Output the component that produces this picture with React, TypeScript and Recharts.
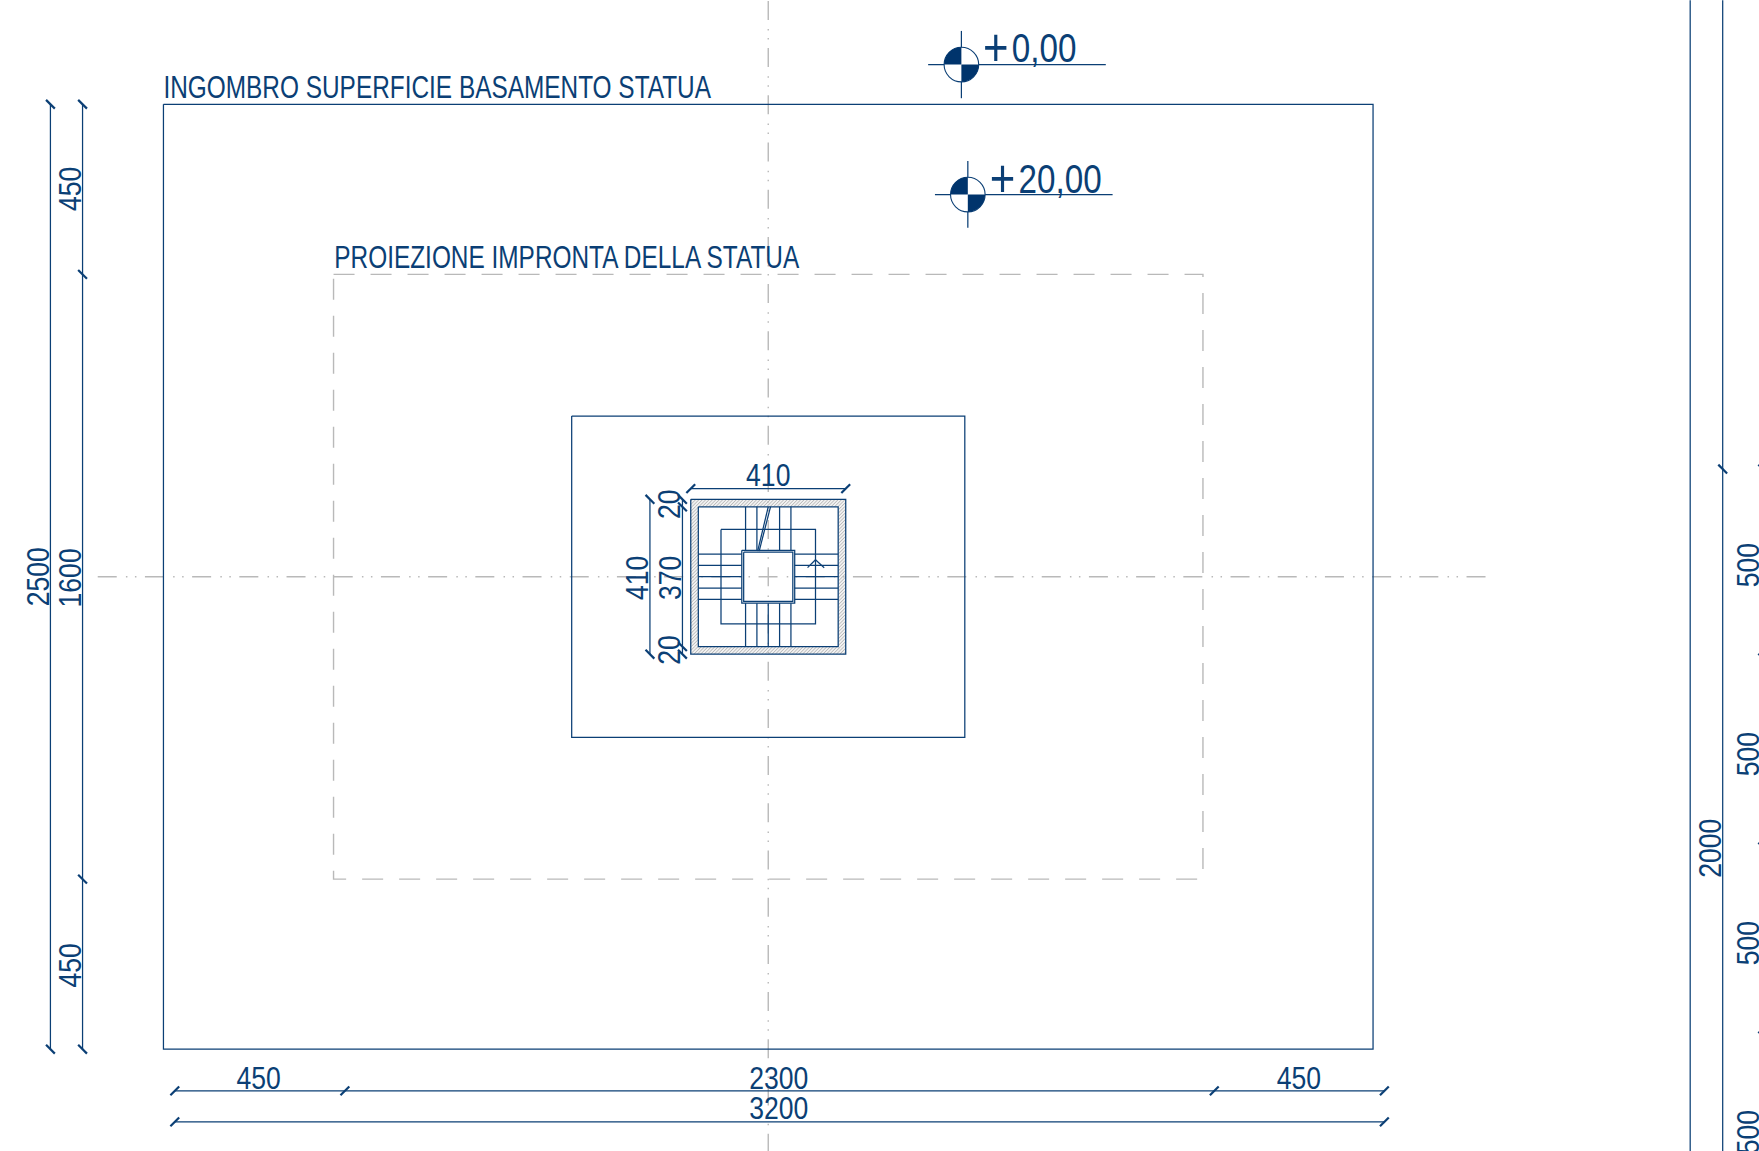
import { ComposedChart, Line, Scatter, XAxis, YAxis, ReferenceArea } from "recharts"

const INK = "#0b3f75"
const GREY = "#b9b9b9"
const FONT = "'Liberation Sans', Arial, sans-serif"

// everything is in drawing units (cm), origin on the stair axis
const xDomain = [-2032.4, 2729.5]
const yDomain = [-1519.2, 1525.8]

// half width, half height of the centred squares
const solidRects = [
  [1600, 1250],
  [520, 425],
  [205, 205],
  [185, 185],
  [125, 125],
  [70, 70],
  [65, 65],
]
const footprintRect = [1150, 800]

// x1, y1, x2, y2
const stairTreads = [
  [-60, 185, -60, 70], [-30, 185, -30, 70], [30, 185, 30, 70], [60, 185, 60, 70],
  [-60, -70, -60, -185], [-30, -70, -30, -185], [0, -70, 0, -185], [30, -70, 30, -185], [60, -70, 60, -185],
  [-185, 60, -70, 60], [-185, 30, -70, 30], [-185, 0, -70, 0], [-185, -30, -70, -30], [-185, -60, -70, -60],
  [70, 60, 185, 60], [70, 30, 185, 30], [70, 0, 185, 0], [70, -30, 185, -30], [70, -60, 185, -60],
  [-28, 68, 0, 185], [-24, 68, 6, 185],
  [104, 24, 125, 45], [125, 45, 148, 24],
]
const dimensionLines = [
  [-1899, 1250, -1899, -1250],
  [-1814, 1250, -1814, -1250],
  [-1570, -1360, 1630, -1360],
  [-1570, -1442, 1630, -1442],
  [2439, 1525, 2439, -1519],
  [2525, 1525, 2525, -1519],
  [-205, 233, 205, 233],
  [-313, 205, -313, -205],
  [-227, 205, -227, -205],
]
const levelLines = [
  [423, 1355, 893, 1355],
  [511, 1444, 511, 1266],
  [441, 1011, 911, 1011],
  [528, 1100, 528, 923],
]
const axisLines = [
  [-1781, 0, 1906, 0],
  [0, 1525, 0, -1519],
]

const ticksBack = [
  [-1899, 1250], [-1899, -1250], [-1814, 1250], [-1814, 800], [-1814, -800], [-1814, -1250],
  [-313, 205], [-313, -205], [-227, 205], [-227, 185], [-227, -185], [-227, -205],
  [2525, 285], [2631, 285], [2631, -215], [2631, -715], [2631, -1215],
]
const ticksForward = [
  [-1570, -1360], [-1120, -1360], [1180, -1360], [1630, -1360],
  [-1570, -1442], [1630, -1442],
  [-205, 233], [205, 233],
]
const levelMarks = [
  [511, 1355],
  [528, 1011],
]

// x, y, text
const bottomDims = [
  [-1348, -1355, "450"], [28, -1355, "2300"], [1404, -1355, "450"], [28, -1435, "3200"],
  [0, 241, "410"],
]
const sideDims = [
  [-1818, 1026, "450"], [-1818, -1028, "450"], [-1903, 0, "2500"], [-1818, -3, "1600"],
  [-319, -3, "410"], [-231, -3, "370"], [-233, 192, "20"], [-233, -194, "20"],
  [2520, -718, "2000"], [2620, 31, "500"], [2620, -469, "500"], [2620, -969, "500"], [2620, -1469, "500"],
]
const titles = [
  [-1600, 1266, "INGOMBRO SUPERFICIE BASAMENTO STATUA"],
  [-1148, 816, "PROIEZIONE IMPRONTA DELLA STATUA"],
]
const levelTexts = [
  [568, 1362, "0,00"],
  [586, 1016, "20,00"],
]

const hatchBands = [
  [-205, 205, 185, 205],
  [-205, 205, -205, -185],
  [-205, -185, -185, 185],
  [185, 205, -185, 185],
]

const toPoints = (rows: any[]) => rows.map(([x, y, label]) => ({ x, y, label }))
const rectPath = ([w, h]: number[]) => [
  { x: -w, y: h },
  { x: w, y: h },
  { x: w, y: -h },
  { x: -w, y: -h },
  { x: -w, y: h },
]
const segPath = ([x1, y1, x2, y2]: number[]) => [
  { x: x1, y: y1 },
  { x: x2, y: y2 },
]

const Tick = ({ cx, cy, dir }: any) => (
  <line x1={cx - 4.4} y1={cy - 4.4 * dir} x2={cx + 4.4} y2={cy + 4.4 * dir} stroke={INK} strokeWidth={2.2} />
)

const LevelMark = ({ cx, cy }: any) => {
  const r = 17.3
  return (
    <g>
      <circle cx={cx} cy={cy} r={r} fill="#fff" stroke={INK} strokeWidth={1.1} />
      <path d={`M${cx} ${cy}L${cx - r} ${cy}A${r} ${r} 0 0 1 ${cx} ${cy - r}Z`} fill="#00346c" />
      <path d={`M${cx} ${cy}L${cx + r} ${cy}A${r} ${r} 0 0 1 ${cx} ${cy + r}Z`} fill="#00346c" />
    </g>
  )
}

// condensed look: no narrow face is installed, so squeeze the regular one
const Label = ({ cx, cy, payload, size, anchor, rotate, squeeze = 0.83 }: any) => (
  <text
    fontFamily={FONT}
    fontSize={size}
    fill={INK}
    textAnchor={anchor}
    transform={`translate(${cx} ${cy})${rotate ? " rotate(-90)" : ""} scale(${squeeze} 1)`}
  >
    {payload.label}
  </text>
)

const LevelLabel = ({ cx, cy, payload }: any) => (
  <text fontFamily={FONT} fontSize={41} fill={INK} transform={`translate(${cx} ${cy}) scale(0.81 1)`}>
    <tspan fontSize={54} dy={4}>+</tspan>
    <tspan dx={4} dy={-4}>{payload.label}</tspan>
  </text>
)

const plainLine = (key: string, data: any[], stroke: string, width: number, dash?: string, offset?: number) => (
  <Line
    key={key}
    data={data}
    dataKey="y"
    stroke={stroke}
    strokeWidth={width}
    strokeDasharray={dash}
    strokeDashoffset={offset}
    dot={false}
    activeDot={false}
    legendType="none"
    isAnimationActive={false}
  />
)

export default function App() {
  return (
    <div style={{ position: "absolute", left: 0, top: 0, width: 1759, height: 1151, overflow: "hidden", background: "#fff" }}>
      <ComposedChart width={1800} height={1151} margin={{ top: 0, right: 0, bottom: 0, left: 0 }}>
        <defs>
          <pattern id="hatch" width="2.4" height="2.4" patternUnits="userSpaceOnUse" patternTransform="rotate(45)">
            <rect width="2.4" height="2.4" fill="#f2f2f2" />
            <line x1="0" y1="0" x2="0" y2="2.4" stroke="#8f8f8f" strokeWidth="0.9" />
          </pattern>
        </defs>
        <XAxis type="number" dataKey="x" domain={xDomain} allowDataOverflow hide />
        <YAxis type="number" dataKey="y" domain={yDomain} allowDataOverflow hide />

        {plainLine("axis-h", segPath(axisLines[0]), GREY, 1.4, "19 9.2 1.5 7.5 1.5 8.5", 44.5)}
        {plainLine("axis-v", segPath(axisLines[1]), GREY, 1.4, "19 9.2 1.5 7.5 1.5 8.5", 46.6)}
        {plainLine("footprint", rectPath(footprintRect), GREY, 1.4, "21 16")}

        {hatchBands.map(([x1, x2, y1, y2], i) => (
          <ReferenceArea key={i} x1={x1} x2={x2} y1={y1} y2={y2} fill="url(#hatch)" fillOpacity={1} stroke="none" />
        ))}

        {solidRects.map((r, i) => plainLine(`rect-${i}`, rectPath(r), INK, 1.25))}
        {stairTreads.map((s, i) => plainLine(`tread-${i}`, segPath(s), INK, 1.25))}
        {dimensionLines.map((s, i) => plainLine(`dim-${i}`, segPath(s), INK, 1.25))}
        {levelLines.map((s, i) => plainLine(`level-${i}`, segPath(s), INK, 1.25))}

        <Scatter data={toPoints(ticksBack)} dataKey="y" isAnimationActive={false} shape={<Tick dir={1} />} />
        <Scatter data={toPoints(ticksForward)} dataKey="y" isAnimationActive={false} shape={<Tick dir={-1} />} />
        <Scatter data={toPoints(levelMarks)} dataKey="y" isAnimationActive={false} shape={<LevelMark />} />

        <Scatter data={toPoints(bottomDims)} dataKey="y" isAnimationActive={false} shape={<Label size={32} anchor="middle" />} />
        <Scatter data={toPoints(sideDims)} dataKey="y" isAnimationActive={false} shape={<Label size={32} anchor="middle" rotate />} />
        <Scatter data={toPoints(titles)} dataKey="y" isAnimationActive={false} shape={<Label size={30.5} anchor="start" squeeze={0.8} />} />
        <Scatter data={toPoints(levelTexts)} dataKey="y" isAnimationActive={false} shape={<LevelLabel />} />
      </ComposedChart>
    </div>
  )
}
